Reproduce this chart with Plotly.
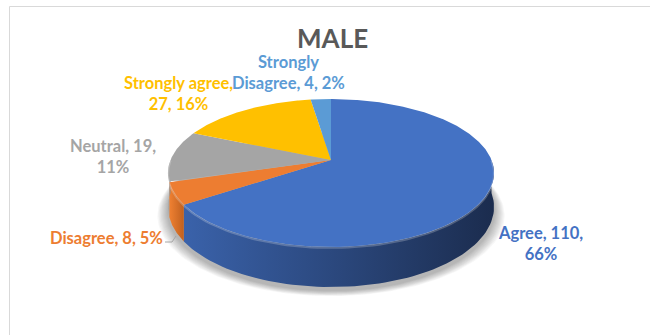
import numpy as np
import plotly.graph_objects as go

# Survey responses (male respondents)
categories = ["Agree", "Disagree", "Neutral", "Strongly agree", "Strongly Disagree"]
counts = [110, 8, 19, 27, 4]
pct_labels = [66, 5, 11, 16, 2]
top_colors = ["#4472C4", "#ED7D31", "#A5A5A5", "#FFC000", "#5B9BD5"]
side_colors = [
    ["#3A62AA", "#1B2C4E"],
    ["#F08132", "#C0601F"],
    ["#B0B0B0", "#8C8C8C"],
    ["#E0A800", "#BF8F00"],
    ["#4F89C0", "#3A6A98"],
]
label_colors = ["#4472C4", "#ED7D31", "#A5A5A5", "#FFC000", "#5B9BD5"]

W, H = 650, 335
# 3-D pie seen in perspective: apex on screen, radii, viewer distance, thickness
vx, vy = 331.0, 160.0
Rx, Ry = 160.5, 71.7
dist = 5.69
thick = 33.0

FONT = "Lato"


def rim(phi_deg, drop=0.0):
    """Project a point on the disc edge (clockwise angle from 12 o'clock)."""
    p = np.radians(phi_deg)
    X, Z = np.sin(p), np.cos(p)
    s = dist / (dist + Z)
    return vx + Rx * X * s, vy - Ry * Z * s + drop * s


total = float(sum(counts))
bounds = np.concatenate([[0.0], np.cumsum(counts) / total * 360.0])

fig = go.Figure()

# soft shadow under the pie
for k in range(10, 0, -1):
    t = np.linspace(0, 360, 241)
    xs, ys = rim(t, thick + 3)
    xs = vx + (xs - vx) * (1 + k * 0.0065)
    ys = ys + k * 0.55
    fig.add_trace(go.Scatter(x=xs, y=ys, mode="lines", fill="toself",
                             fillcolor="rgba(0,0,0,0.032)", line=dict(width=0),
                             hoverinfo="skip", showlegend=False))

# extruded side walls (only the front half, 90..270 deg, is visible)
for i in range(len(counts)):
    a, b = max(bounds[i], 90.0), min(bounds[i + 1], 270.0)
    if b <= a:
        continue
    t = np.linspace(a, b, 80)
    xt, yt = rim(t)
    xb, yb = rim(t[::-1], thick)
    xs = np.concatenate([xt, xb, xt[:1]])
    ys = np.concatenate([yt, yb, yt[:1]])
    fig.add_trace(go.Scatter(
        x=xs, y=ys, mode="lines", fill="toself",
        fillgradient=dict(type="horizontal",
                          colorscale=[[0, side_colors[i][0]], [1, side_colors[i][1]]]),
        line=dict(width=0), hoverinfo="skip", showlegend=False))

# top faces of the slices
for i in range(len(counts)):
    n = max(4, int((bounds[i + 1] - bounds[i]) * 2))
    t = np.linspace(bounds[i], bounds[i + 1], n)
    xr, yr = rim(t)
    xs = np.concatenate([[vx], xr, [vx]])
    ys = np.concatenate([[vy], yr, [vy]])
    fig.add_trace(go.Scatter(x=xs, y=ys, mode="lines", fill="toself",
                             fillcolor=top_colors[i], line=dict(width=0),
                             hoverinfo="skip", showlegend=False))

# bevel highlight along the front rim
for i in range(len(counts)):
    a, b = max(bounds[i], 90.0), min(bounds[i + 1], 270.0)
    if b <= a:
        continue
    t = np.linspace(a, b, 80)
    xt, yt = rim(t, 0.8)
    fig.add_trace(go.Scatter(x=xt, y=yt, mode="lines",
                             line=dict(width=2, color="rgba(255,255,255,0.22)"),
                             hoverinfo="skip", showlegend=False))

# data labels
label_texts = [
    f"{categories[0]}, {counts[0]},<br>{pct_labels[0]}%",
    f"{categories[1]}, {counts[1]}, {pct_labels[1]}%",
    f"{categories[2]}, {counts[2]},<br>{pct_labels[2]}%",
    f"{categories[3]},<br>{counts[3]}, {pct_labels[3]}%",
    "Strongly<br>Disagree, " + f"{counts[4]}, {pct_labels[4]}%",
]
label_pos = [(540, 243), (106, 238), (113, 156), (178, 93), (288, 72)]
for i, txt in enumerate(label_texts):
    fig.add_annotation(x=label_pos[i][0], y=label_pos[i][1], text=txt,
                       showarrow=False, xanchor="center", yanchor="middle",
                       align="center",
                       font=dict(family=FONT, size=16.5, color=label_colors[i],
                                 weight="bold"))

# leader line for the small Disagree slice
fig.add_shape(type="path", path="M 165 242 L 172 242 L 176 236",
              line=dict(color="#A6A6A6", width=1))

# chart frame
fig.add_shape(type="path", path=f"M 9.5 {H} L 9.5 6.5 L {W} 6.5",
              line=dict(color="#D9D9D9", width=1))

fig.add_annotation(x=332, y=38, text="MALE", showarrow=False,
                   xanchor="center", yanchor="middle",
                   font=dict(family=FONT, size=26, color="#595959", weight="bold"))

fig.update_layout(
    width=W, height=H, margin=dict(l=0, r=0, t=0, b=0),
    paper_bgcolor="white", plot_bgcolor="white",
    xaxis=dict(range=[0, W], visible=False, fixedrange=True),
    yaxis=dict(range=[H, 0], visible=False, fixedrange=True),
    showlegend=False,
)

fig.write_html("out.html")
